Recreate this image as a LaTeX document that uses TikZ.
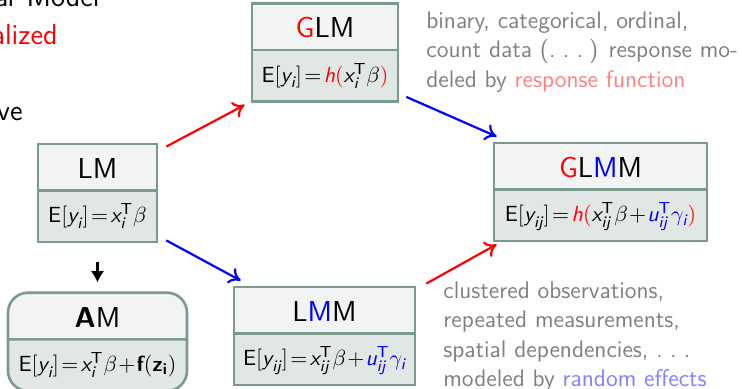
\documentclass[tikz,border=0pt]{standalone}
\usepackage{amsmath}
\usepackage{xcolor}
\usepackage{tikz}
\usetikzlibrary{arrows.meta,positioning,shapes.multipart}
\definecolor{boxline}{RGB}{122,155,140}
\definecolor{boxtop}{RGB}{241,244,243}
\definecolor{boxbot}{RGB}{225,231,228}
\definecolor{notegray}{RGB}{128,128,128}

\newcommand{\sv}[1]{\text{\sffamily\itshape #1}}
\newcommand{\trp}{\text{\sffamily T}}
\newcommand{\expct}{\text{\sffamily E}}
\newcommand{\eq}{\!=\!}
\newcommand{\pl}{\!+\!}
\newcommand{\dts}{.\kern0.3em.\kern0.3em.\kern0.25em}
\newcommand{\topstrut}{\rule[-5.5pt]{0pt}{22pt}}
\newcommand{\botstrut}{\rule[-9pt]{0pt}{24.5pt}}
\newcommand{\fml}{\fontsize{10.95}{13}\selectfont}

\begin{document}
\begin{tikzpicture}[x=0.5pt,y=-0.5pt,
      box/.style={rectangle split,rectangle split parts=2,draw=boxline,line width=1.3pt,
                  rectangle split part fill={boxtop,boxbot},inner xsep=2pt,inner ysep=0pt,
                  font=\sffamily\fontsize{14.4}{18}\selectfont},
      note/.style={align=left,inner sep=0pt,text=notegray,
                   font=\sffamily\fontsize{12}{14.75}\selectfont},
      side/.style={inner sep=0pt,anchor=base east,font=\sffamily\fontsize{14.4}{18}\selectfont},
      ar/.style={-{To[length=2mm,width=3mm]},line width=1.1pt}]
    \useasboundingbox (0,0) rectangle (742,389);
    \clip (0,0) rectangle (742,389);
    % cut-off headings at the left edge
    \node[side] (lmtxt) at (100,7) {Linear Model};
    \node[side,text=red] (glmtxt) at (58,45) {Generalized};
    \node[side] (amtxt) at (23,121) {Additive};
    % models
    \node[box,minimum width=59.5pt] (lm) at (97.5,193)
      {\topstrut LM\nodepart{two}\fml\botstrut
       $\expct[\sv{y}_{\sv{i}}]\eq\sv{x}_{\sv{i}}^{\trp}\beta$};
    \node[box,minimum width=73pt] (glm) at (325,52.5)
      {\topstrut\textcolor{red}{G}LM\nodepart{two}\fml\botstrut
       $\expct[\sv{y}_{\sv{i}}]\eq\textcolor{red}{\sv{h}(}\sv{x}_{\sv{i}}^{\trp}\beta\textcolor{red}{)}$};
    \node[box,minimum width=89.5pt,rounded corners=10pt,below=24pt of lm] (am)
      {\topstrut\textbf{A}M\nodepart{two}\fml\botstrut
       $\expct[\sv{y}_{\sv{i}}]\eq\sv{x}_{\sv{i}}^{\trp}\beta\pl\text{\sffamily\bfseries f}(\text{\sffamily\bfseries z}_{\text{\sffamily\bfseries i}})$};
    \node[box,minimum width=90.5pt] (lmm) at (324.5,336)
      {\topstrut L\textcolor{blue}{M}M\nodepart{two}\fml\botstrut
       $\expct[\sv{y}_{\sv{ij}}]\eq\sv{x}_{\sv{ij}}^{\trp}\beta\pl\textcolor{blue}{\sv{u}_{\sv{ij}}^{\trp}\gamma_{\sv{i}}}$};
    \node[box,minimum width=106.5pt] (glmm) at (600.5,192)
      {\topstrut\textcolor{red}{G}L\textcolor{blue}{M}M\nodepart{two}\fml\botstrut
       $\expct[\sv{y}_{\sv{ij}}]\eq\textcolor{red}{\sv{h}(}\sv{x}_{\sv{ij}}^{\trp}\beta\pl\textcolor{blue}{\sv{u}_{\sv{ij}}^{\trp}\gamma_{\sv{i}}}\textcolor{red}{)}$};
    % notes
    \node[note,anchor=north west] (glmnote) at (426,11.3)
      {binary, categorical, ordinal,\\count data (\dts) response mo-\\deled by \textcolor{red!50}{response function}};
    \node[note,anchor=north west] (lmmnote) at (443,281.3)
      {clustered observations,\\repeated measurements,\\spatial dependencies, \dts\\modeled by \textcolor{blue!50}{random effects}};
    % arrows
    \draw[ar,red] ([xshift=4pt,yshift=-2pt]lm.north east) -- ([xshift=-3pt,yshift=-1pt]glm.south west);
    \draw[ar,blue] ([xshift=3.5pt,yshift=3pt]glm.south east) -- ([xshift=2pt,yshift=2.5pt]glmm.north west);
    \draw[ar,blue] ([xshift=4pt,yshift=1.5pt]lm.south east) -- ([xshift=4pt,yshift=2.5pt]lmm.north west);
    \draw[ar,red] ([xshift=5pt,yshift=1pt]lmm.north east) -- ([xshift=2pt,yshift=-1pt]glmm.south west);
    \draw[ar,-{Latex[length=2mm,width=2.4mm]},shorten <=9.5pt,shorten >=4.5pt] (lm) -- (am);
  \end{tikzpicture}
\end{document}
